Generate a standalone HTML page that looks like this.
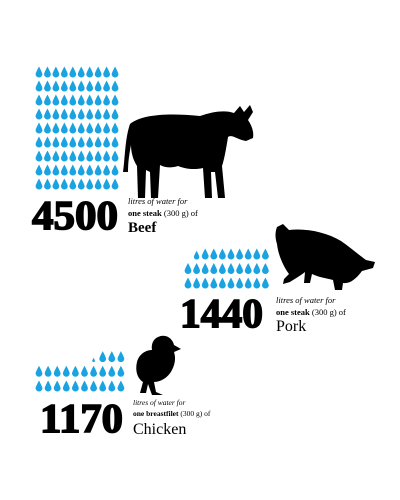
<!DOCTYPE html>
<html><head><meta charset="utf-8"><style>
body{margin:0;background:#fff;width:400px;height:500px;overflow:hidden;font-family:"Liberation Serif",serif}
svg{display:block}
.big{stroke:#000;stroke-width:1.6;paint-order:stroke}
</style></head><body>
<svg id="chart" width="400" height="500" viewBox="0 0 400 500">
<g id="drops"></g>
<!-- cow -->
<path fill="#000" d="M130,124 C142,114 170,113 200,116 C214,111 226,110 234,113 L240,106 L244,112 L250,105 L253,112 L248,120 C252,126 254,132 253,138 L246,141 C238,140 232,134 228,137 C226,150 224,160 222,166 L225,198 L218,198 L215,172 L211,172 L212,198 L205,198 L203,168 C195,170 185,169 178,166 C172,168 166,168 160,165 L158,198 L151,198 L150,172 L146,170 L145,198 L138,198 L137,166 C133,160 131,152 131,145 C129,155 128,163 128,172 L123,172 C125,158 125,138 130,124 Z"/>
<!-- pig -->
<path fill="#000" d="M277,227 L283,224 L289,230 C306,228 326,232 341,241 C351,248 359,255 366,260 L375,262 L373,268 L362,271 C356,279 350,284 343,283 L342,290 L335,290 L333,280 C325,278 318,277 312,274 L310,283 L304,283 L305,272 C300,276 293,280 290,282 L283,284 L284,279 L289,274 C283,266 278,254 277,244 C275,238 275,232 277,227 Z"/>
<!-- chick -->
<path fill="#000" d="M158,337 C166,333 173,339 174,345 L181,349 L174,352 C176,358 175,364 172,370 C168,378 160,382 154,382 L156,392 L163,395 L152,395 L148,384 L146,393 L140,393 L143,382 C137,378 135,370 137,362 C139,354 146,350 152,350 C151,345 153,339 158,337 Z"/>
<g>
<text class="big" x="32" y="229" font-size="41" font-weight="bold" textLength="86" lengthAdjust="spacingAndGlyphs">4500</text>
<text x="128" y="204" font-size="8.5" font-style="italic">litres of water for</text>
<text x="128" y="216" font-size="8.5"><tspan font-weight="bold">one steak</tspan> (300 g) of</text>
<text x="128" y="232" font-size="15" font-weight="bold">Beef</text>
</g>
<g>
<text class="big" x="180" y="327" font-size="41" font-weight="bold" textLength="83" lengthAdjust="spacingAndGlyphs">1440</text>
<text x="276" y="303" font-size="8.5" font-style="italic">litres of water for</text>
<text x="276" y="315" font-size="8.5"><tspan font-weight="bold">one steak</tspan> (300 g) of</text>
<text x="276" y="331" font-size="16">Pork</text>
</g>
<g>
<text class="big" x="40" y="432" font-size="41" font-weight="bold" textLength="83" lengthAdjust="spacingAndGlyphs">1170</text>
<text x="133" y="405" font-size="7.5" font-style="italic">litres of water for</text>
<text x="133" y="416" font-size="7.5"><tspan font-weight="bold">one breastfilet</tspan> (300 g) of</text>
<text x="133" y="434" font-size="16">Chicken</text>
</g>
</svg>
<script>
const categories = ["Beef", "Pork", "Chicken"];
const litres = [4500, 1440, 1170];
const litresPerDrop = 50;
const dropsPerRow = 10;
// layout (not data)
const origins = [{x:39,y:184,sx:8.45,sy:14},{x:188,y:283,sx:8.6,sy:14.5},{x:39,y:386,sx:9.1,sy:14.7}];
const g = document.getElementById('drops');
const NS = "http://www.w3.org/2000/svg";
function dropPath(cx, cy, s){
  const h=11*s, w=3.4*s;
  const top=cy-h/2, bot=cy+h/2;
  return `M${cx},${top} C${cx+w*0.5},${top+h*0.3} ${cx+w},${bot-w*1.3} ${cx+w},${bot-w} A${w},${w} 0 0 1 ${cx-w},${bot-w} C${cx-w},${bot-w*1.3} ${cx-w*0.5},${top+h*0.3} ${cx},${top} Z`;
}
litres.forEach((v, i) => {
  const o = origins[i];
  const n = v / litresPerDrop;
  const full = Math.floor(n);
  const frac = n - full;
  const total = full + (frac > 0 ? 1 : 0);
  for (let k = 0; k < total; k++) {
    const row = Math.floor(k / dropsPerRow);
    const col = dropsPerRow - 1 - (k % dropsPerRow);
    const isFrac = (k === full && frac > 0);
    const s = isFrac ? Math.max(0.35, frac) : 1;
    const cx = o.x + col * o.sx;
    const cy = o.y - row * o.sy + (isFrac ? 5.5*(1-s) : 0);
    const p = document.createElementNS(NS, 'path');
    p.setAttribute('d', dropPath(cx, cy, s));
    p.setAttribute('fill', '#1aa3e0');
    
    
    g.appendChild(p);
  }
});
</script>
</body></html>
